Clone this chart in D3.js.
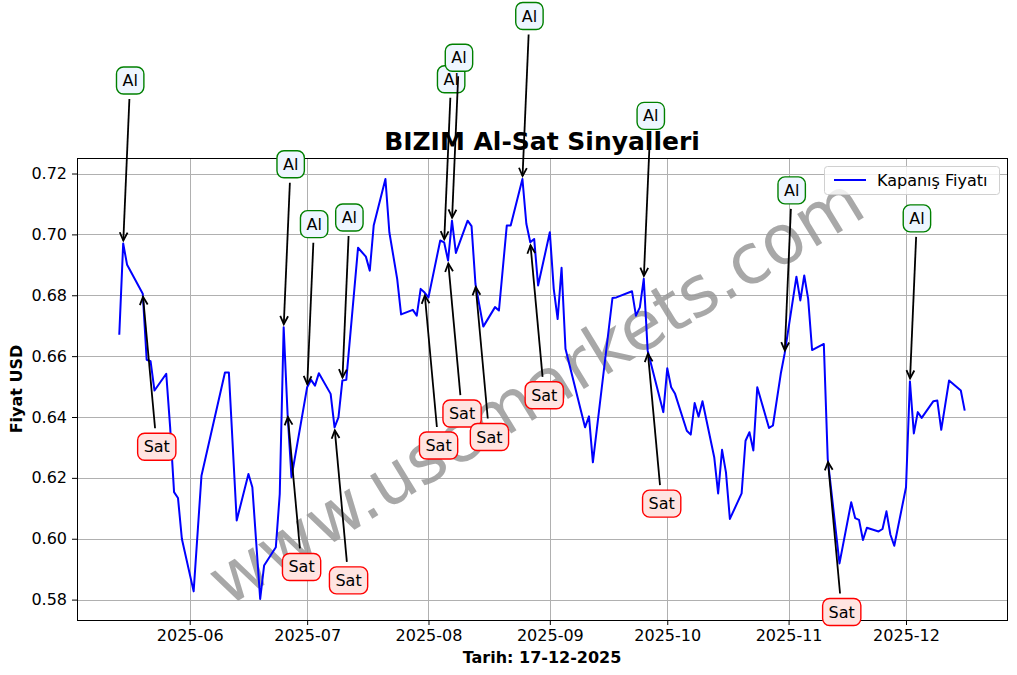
<!DOCTYPE html>
<html>
<head>
<meta charset="utf-8">
<script src="https://cdn.jsdelivr.net/npm/d3@7"></script>
<style>
  html, body { margin: 0; padding: 0; background: #fff; }
  svg { display: block; font-family: "DejaVu Sans", sans-serif; }
</style>
</head>
<body>
<svg id="chart" width="1017" height="675"></svg>
<script>
// ---------------- data ----------------
const dates = [
  "2025-05-14","2025-05-15","2025-05-16","2025-05-20","2025-05-21","2025-05-22","2025-05-23",
  "2025-05-26","2025-05-27","2025-05-28","2025-05-29","2025-05-30","2025-06-02","2025-06-04",
  "2025-06-10","2025-06-11","2025-06-13","2025-06-16","2025-06-17","2025-06-19","2025-06-20",
  "2025-06-23","2025-06-24","2025-06-25","2025-06-26","2025-06-27","2025-07-01","2025-07-02",
  "2025-07-03","2025-07-04","2025-07-07","2025-07-08","2025-07-09","2025-07-10","2025-07-11",
  "2025-07-14","2025-07-16","2025-07-17","2025-07-18","2025-07-21","2025-07-22","2025-07-24",
  "2025-07-25","2025-07-28","2025-07-29","2025-07-30","2025-07-31","2025-08-01","2025-08-04",
  "2025-08-05","2025-08-06","2025-08-07","2025-08-08","2025-08-11","2025-08-12","2025-08-13",
  "2025-08-15","2025-08-18","2025-08-19","2025-08-21","2025-08-22","2025-08-25","2025-08-26",
  "2025-08-27","2025-08-28","2025-08-29","2025-09-01","2025-09-02","2025-09-03","2025-09-04",
  "2025-09-05","2025-09-10","2025-09-11","2025-09-12","2025-09-17","2025-09-18","2025-09-22",
  "2025-09-23","2025-09-24","2025-09-25","2025-09-26","2025-09-30","2025-10-01","2025-10-02",
  "2025-10-03","2025-10-06","2025-10-07","2025-10-08","2025-10-09","2025-10-10","2025-10-13",
  "2025-10-14","2025-10-15","2025-10-16","2025-10-17","2025-10-20","2025-10-21","2025-10-22",
  "2025-10-23","2025-10-24","2025-10-27","2025-10-28","2025-10-30","2025-10-31","2025-11-03",
  "2025-11-04","2025-11-05","2025-11-06","2025-11-07","2025-11-10","2025-11-11","2025-11-14",
  "2025-11-17","2025-11-18","2025-11-19","2025-11-20","2025-11-21","2025-11-24","2025-11-25",
  "2025-11-26","2025-11-27","2025-11-28","2025-12-01","2025-12-02","2025-12-03","2025-12-04",
  "2025-12-05","2025-12-08","2025-12-09","2025-12-10","2025-12-12","2025-12-15","2025-12-16"
];
const closePrices = [
  0.667,0.697,0.690,0.6805,0.6588,0.6583,0.6487,
  0.6542,0.6366,0.6153,0.6134,0.5999,0.5827,0.6207,
  0.6546,0.6546,0.6060,0.6213,0.6169,0.5802,0.5912,
  0.5972,0.6147,0.6695,0.6410,0.6202,0.6498,0.6522,
  0.6503,0.6544,0.6476,0.6366,0.6399,0.6520,0.6522,
  0.6956,0.6927,0.6881,0.7029,0.7182,0.7007,0.6854,
  0.6737,0.6752,0.6733,0.6821,0.6809,0.6793,0.6980,
  0.6974,0.6914,0.7045,0.6939,0.7045,0.7027,0.6837,
  0.6697,0.6761,0.6750,0.7029,0.7029,0.7182,0.7035,
  0.6974,0.6985,0.6832,0.7007,0.6821,0.6722,0.6890,
  0.6624,0.6366,0.6402,0.6251,0.6791,0.6793,0.6813,
  0.6733,0.6760,0.6854,0.6618,0.6416,0.6560,0.6498,
  0.6476,0.6355,0.6342,0.6446,0.6401,0.6452,0.6268,
  0.6149,0.6292,0.6218,0.6065,0.6149,0.6322,0.6350,
  0.6290,0.6498,0.6364,0.6372,0.6542,0.6609,0.6861,
  0.6783,0.6865,0.6788,0.6620,0.6640,0.6262,0.5919,
  0.6120,0.6068,0.6062,0.5996,0.6036,0.6024,0.6032,
  0.6090,0.6014,0.5977,0.6169,0.6517,0.6346,0.6416,
  0.6397,0.6452,0.6454,0.6358,0.6520,0.6487,0.6421
];
const buyDates  = ["2025-05-15","2025-06-25","2025-07-01","2025-07-10","2025-08-05",
                   "2025-08-07","2025-08-25","2025-09-25","2025-10-31","2025-12-02"];
const sellDates = ["2025-05-20","2025-06-26","2025-07-08","2025-07-31","2025-08-06",
                   "2025-08-13","2025-08-27","2025-09-26","2025-11-11"];
const yTicks = [0.58,0.60,0.62,0.64,0.66,0.68,0.70,0.72];
const titleText = "BIZIM Al-Sat Sinyalleri";
const xLabelText = "Tarih: 17-12-2025";
const yLabelText = "Fiyat USD";
const legendText = "Kapanış Fiyatı";
const buyLabel = "Al";
const sellLabel = "Sat";
const watermarkText = "www.uscmarkets.com";

// ---------------- layout ----------------
const W = 1017, H = 675;
const M = {left: 77, right: 10, top: 158, bottom: 55};
const pw = W - M.left - M.right, ph = H - M.top - M.bottom;
const FONT = "DejaVu Sans, sans-serif";

const parse = d3.utcParse("%Y-%m-%d");
const data = dates.map((d, i) => ({date: parse(d), value: closePrices[i]}));
const byDate = new Map(dates.map((d, i) => [d, data[i]]));

const xExt = d3.extent(data, d => d.date);
const xPad = (xExt[1] - xExt[0]) * 0.05;
const x = d3.scaleUtc()
  .domain([new Date(+xExt[0] - xPad), new Date(+xExt[1] + xPad)])
  .range([0, pw]);
const yExt = d3.extent(data, d => d.value);
const yPad = (yExt[1] - yExt[0]) * 0.05;
const y = d3.scaleLinear().domain([yExt[0] - yPad, yExt[1] + yPad]).range([ph, 0]);

const svg = d3.select("#chart");
svg.append("rect").attr("width", W).attr("height", H).attr("fill", "#fff");
const g = svg.append("g").attr("transform", `translate(${M.left},${M.top})`);

const xTicks = d3.utcMonth.range(d3.utcMonth.ceil(x.domain()[0]), x.domain()[1]);

// grid
g.append("g").selectAll("line").data(xTicks).join("line")
  .attr("x1", d => Math.round(x(d)) + 0.5).attr("x2", d => Math.round(x(d)) + 0.5)
  .attr("y1", 0).attr("y2", ph).attr("stroke", "#b0b0b0").attr("stroke-width", 1);
g.append("g").selectAll("line").data(yTicks).join("line")
  .attr("y1", d => Math.round(y(d)) + 0.5).attr("y2", d => Math.round(y(d)) + 0.5)
  .attr("x1", 0).attr("x2", pw).attr("stroke", "#b0b0b0").attr("stroke-width", 1);

// watermark
g.append("text")
  .attr("transform", `translate(${pw/2 + 6},${ph/2 + 22}) rotate(-31.5)`)
  .attr("text-anchor", "middle")
  .attr("font-family", FONT).attr("font-size", 69)
  .attr("fill", "#999").attr("fill-opacity", 0.85)
  .text(watermarkText);

// line
g.append("path").datum(data)
  .attr("fill", "none").attr("stroke", "#0000ff").attr("stroke-width", 2)
  .attr("stroke-linejoin", "round")
  .attr("d", d3.line().x(d => x(d.date)).y(d => y(d.value)));

// axes
const xAxis = d3.axisBottom(x).tickValues(xTicks).tickFormat(d3.utcFormat("%Y-%m"))
  .tickSizeInner(5).tickSizeOuter(0).tickPadding(5);
const gx = g.append("g").attr("transform", `translate(0,${ph})`).call(xAxis);
const yAxis = d3.axisLeft(y).tickValues(yTicks).tickFormat(d3.format(".2f"))
  .tickSizeInner(5).tickSizeOuter(0).tickPadding(5);
const gy = g.append("g").call(yAxis);
[gx, gy].forEach(a => {
  a.select(".domain").remove();
  a.selectAll("text").attr("font-family", FONT).attr("font-size", 16).attr("fill", "#000");
  a.selectAll("line").attr("stroke", "#000");
});

// frame
g.append("rect").attr("x", 0.5).attr("y", 0.5).attr("width", pw).attr("height", ph)
  .attr("fill", "none").attr("stroke", "#000").attr("stroke-width", 1);

// annotations
const ann = svg.append("g");
function drawSignal(dstr, label, dx, dy, fill, edge) {
  const p = byDate.get(dstr);
  const px = M.left + x(p.date), py = M.top + y(p.value);
  const cx = px + dx, cy = py + dy;
  const t = ann.append("text").attr("x", cx).attr("y", cy).attr("text-anchor", "middle")
    .attr("dominant-baseline", "central")
    .attr("font-family", FONT).attr("font-size", 16).attr("fill", "#000").text(label);
  const tw = t.node().getComputedTextLength();
  const bw = tw + 12, bh = 27;
  ann.insert("rect", () => t.node())
    .attr("x", cx - bw/2).attr("y", cy - bh/2).attr("width", bw).attr("height", bh)
    .attr("rx", 7).attr("fill", fill).attr("stroke", edge).attr("stroke-width", 1.4);
  // arrow
  const sy = dy < 0 ? cy + bh/2 + 5 : cy - bh/2 - 5;
  const sx = cx + (px - cx) * ((sy - cy) / (py - cy));
  const ang = Math.atan2(py - sy, px - sx);
  const ex = px - Math.cos(ang) * 3, ey = py - Math.sin(ang) * 3;
  ann.append("line").attr("x1", sx).attr("y1", sy).attr("x2", ex).attr("y2", ey)
    .attr("stroke", "#000").attr("stroke-width", 1.8);
  const hl = 9, ha = 0.45;
  const hp = [
    [ex - hl*Math.cos(ang - ha), ey - hl*Math.sin(ang - ha)],
    [ex, ey],
    [ex - hl*Math.cos(ang + ha), ey - hl*Math.sin(ang + ha)]
  ];
  ann.append("path").attr("d", d3.line()(hp)).attr("fill", "none")
    .attr("stroke", "#000").attr("stroke-width", 1.8);
}
buyDates.forEach(d => drawSignal(d, buyLabel, 7, -163, "#eef6ff", "#008000"));
sellDates.forEach(d => drawSignal(d, sellLabel, 14, 153, "#ffe4e1", "#ff0000"));

// title & labels
svg.append("text").attr("x", M.left + pw/2).attr("y", 150).attr("text-anchor", "middle")
  .attr("font-family", FONT).attr("font-size", 25).attr("font-weight", "bold").text(titleText);
svg.append("text").attr("x", M.left + pw/2).attr("y", 663).attr("text-anchor", "middle")
  .attr("font-family", FONT).attr("font-size", 16).attr("font-weight", "bold").text(xLabelText);
svg.append("text").attr("transform", `translate(22,${M.top + ph/2}) rotate(-90)`)
  .attr("text-anchor", "middle")
  .attr("font-family", FONT).attr("font-size", 16).attr("font-weight", "bold").text(yLabelText);

// legend
const lg = svg.append("g").attr("transform", "translate(824,166)");
lg.append("rect").attr("x", 0.5).attr("y", 0.5).attr("width", 175).attr("height", 28).attr("rx", 3)
  .attr("fill", "#fff").attr("fill-opacity", 0.8).attr("stroke", "#d0d0d0");
lg.append("line").attr("x1", 10).attr("x2", 42).attr("y1", 14).attr("y2", 14)
  .attr("stroke", "#0000ff").attr("stroke-width", 2);
lg.append("text").attr("x", 53).attr("y", 20).attr("font-family", FONT).attr("font-size", 16)
  .attr("fill", "#000").text(legendText);
</script>
</body>
</html>
